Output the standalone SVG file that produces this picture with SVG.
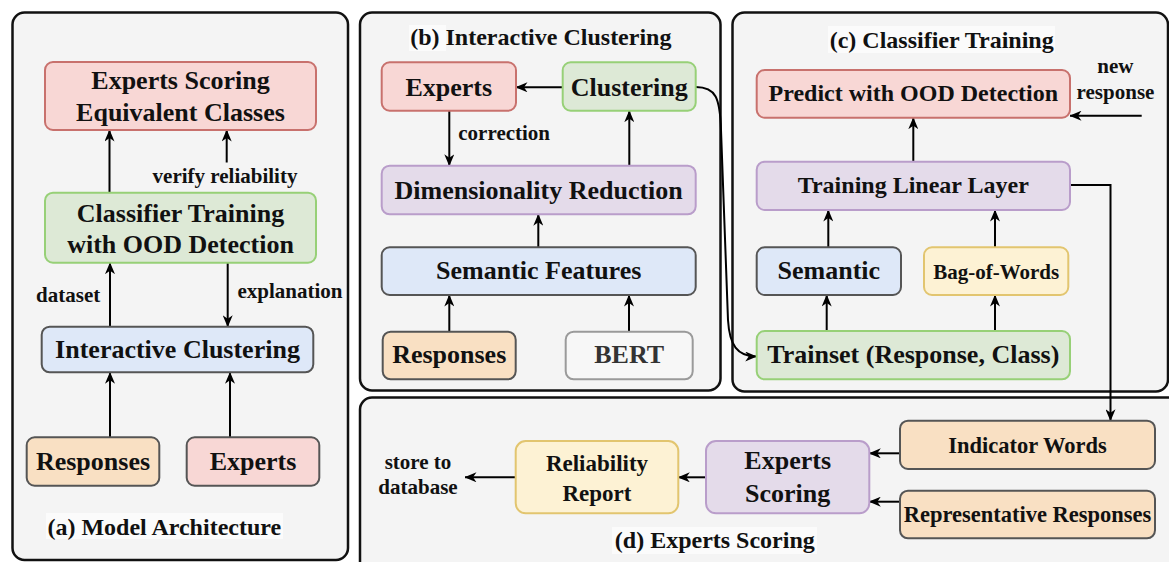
<svg xmlns="http://www.w3.org/2000/svg" width="1169" height="562" viewBox="0 0 1169 562">
<defs>
<marker id="arr" viewBox="0 0 12 10" refX="11.5" refY="5" markerWidth="12" markerHeight="10" markerUnits="userSpaceOnUse" orient="auto">
<path d="M0,0 L12,5 L0,10 L3.5,5 Z" fill="#000"/>
</marker>
</defs>
<style>
.panel{fill:#f4f4f4;stroke:#111;stroke-width:2.5}
.lbg{fill:#fbfbfb}
.lbl{font-family:'Liberation Serif',serif;font-weight:bold;fill:#111;text-anchor:middle}
.f26{font-size:26px}.f24{font-size:24px}.f23{font-size:23px}.f22{font-size:22.5px}.f21{font-size:21px}
.red{fill:#f8d7d5;stroke:#c8716d;stroke-width:2}
.grn{fill:#dde9d6;stroke:#97d077;stroke-width:2}
.blu{fill:#dee8f8;stroke:#555;stroke-width:2}
.pur{fill:#e4dbea;stroke:#b99dca;stroke-width:2}
.pch{fill:#f9e0c3;stroke:#555;stroke-width:2}
.yel{fill:#fdf2d4;stroke:#e2c56f;stroke-width:2}
.pnkd{fill:#f8d7d5;stroke:#555;stroke-width:2}
.gry{fill:#f7f7f7;stroke:#9a9a9a;stroke-width:2}
.c{fill:none;stroke:#000;stroke-width:2;marker-end:url(#arr)}
</style>

<g id="panels">
<rect class="panel" x="12.5" y="12.5" width="335.5" height="547.5" rx="12"/>
<rect class="panel" x="360" y="12.5" width="360.5" height="378" rx="12"/>
<rect class="panel" x="732.5" y="12.5" width="435.5" height="379" rx="12"/>
<rect class="panel" x="360" y="397.5" width="830" height="190" rx="12"/>
</g>

<g id="titles">
<rect class="lbg" x="46" y="513" width="237" height="26"/>
<text class="lbl f24" font-family="Liberation Serif" style="font-family:'Liberation Serif',serif" x="164.3" y="535">(a) Model Architecture</text>
<rect class="lbg" x="409" y="25" width="37" height="26"/>
<text class="lbl f24" font-family="Liberation Serif" style="font-family:'Liberation Serif',serif" x="540.8" y="45">(b) Interactive Clustering</text>
<rect class="lbg" x="828" y="26" width="227" height="27"/>
<text class="lbl f24" font-family="Liberation Serif" style="font-family:'Liberation Serif',serif" x="941.7" y="48.3">(c) Classifier Training</text>
<rect class="lbg" x="612" y="527" width="205" height="27"/>
<text class="lbl f24" font-family="Liberation Serif" style="font-family:'Liberation Serif',serif" x="714.8" y="548.3">(d) Experts Scoring</text>
</g>

<g id="connectors">
<path class="c" d="M109.5,192.7 V130"/>
<path class="c" d="M226.7,162.5 V130"/>
<path class="c" d="M110,326.7 V262.7"/>
<path class="c" d="M227.7,262.7 V326.7"/>
<path class="c" d="M110,437.3 V372.3"/>
<path class="c" d="M230,437.3 V372.3"/>
<path class="c" d="M562.7,87.3 H516"/>
<path class="c" d="M449.3,110.7 V165.7"/>
<path class="c" d="M629.3,165.7 V110.7"/>
<path class="c" d="M538.3,247.3 V214.3"/>
<path class="c" d="M449.3,331.7 V295"/>
<path class="c" d="M629,331.7 V295"/>
<path class="c" d="M695.7,87 C716,87 720,98 721,130 L728,320 C729.5,345 737,356.5 756.7,356.5"/>
<path class="c" d="M1141.7,115.7 H1070"/>
<path class="c" d="M913.3,161.7 V117.7"/>
<path class="c" d="M828.3,247.3 V210"/>
<path class="c" d="M995,247.3 V210"/>
<path class="c" d="M826.7,331 V295"/>
<path class="c" d="M995,331 V295"/>
<path class="c" d="M1070,185 H1110.5 V420.7"/>
<path class="c" d="M900,453.3 H869.3"/>
<path class="c" d="M900,501.7 H869.3"/>
<path class="c" d="M706,477.3 H678.3"/>
<path class="c" d="M515.7,477.3 H465"/>
</g>

<g id="a_experts_scoring">
<rect class="red" x="45" y="62" width="271" height="68" rx="8"/>
<text class="lbl f26" font-family="Liberation Serif" style="font-family:'Liberation Serif',serif" x="180.5" y="89">Experts Scoring</text>
<text class="lbl f26" font-family="Liberation Serif" style="font-family:'Liberation Serif',serif" x="180.5" y="121">Equivalent Classes</text>
</g>
<g id="a_classifier">
<rect class="grn" x="45" y="192.7" width="271" height="70" rx="8"/>
<text class="lbl f26" font-family="Liberation Serif" style="font-family:'Liberation Serif',serif" x="180.5" y="221.7">Classifier Training</text>
<text class="lbl f26" font-family="Liberation Serif" style="font-family:'Liberation Serif',serif" x="180.5" y="252.5">with OOD Detection</text>
</g>
<g id="a_interactive">
<rect class="blu" x="41.7" y="326.7" width="271.6" height="45.6" rx="8"/>
<text class="lbl f26" font-family="Liberation Serif" style="font-family:'Liberation Serif',serif" x="177.5" y="358.3">Interactive Clustering</text>
</g>
<g id="a_responses">
<rect class="pch" x="26.7" y="437.3" width="132.6" height="48.4" rx="8"/>
<text class="lbl f26" font-family="Liberation Serif" style="font-family:'Liberation Serif',serif" x="93" y="470">Responses</text>
</g>
<g id="a_experts">
<rect class="pnkd" x="186.7" y="437.3" width="132.6" height="48.4" rx="8"/>
<text class="lbl f26" font-family="Liberation Serif" style="font-family:'Liberation Serif',serif" x="253" y="470">Experts</text>
</g>
<g id="a_labels">
<text class="lbl f21" font-family="Liberation Serif" style="font-family:'Liberation Serif',serif" x="225" y="182.7">verify reliability</text>
<text class="lbl f21" font-family="Liberation Serif" style="font-family:'Liberation Serif',serif" x="68.2" y="301.7">dataset</text>
<text class="lbl f21" font-family="Liberation Serif" style="font-family:'Liberation Serif',serif" x="290" y="298.3">explanation</text>
</g>

<g id="b_experts">
<rect class="red" x="381.7" y="62.3" width="134.3" height="48.4" rx="8"/>
<text class="lbl f26" font-family="Liberation Serif" style="font-family:'Liberation Serif',serif" x="448.8" y="95.7">Experts</text>
</g>
<g id="b_clustering">
<rect class="grn" x="562.7" y="62.3" width="133" height="48.4" rx="8"/>
<text class="lbl f26" font-family="Liberation Serif" style="font-family:'Liberation Serif',serif" x="629.2" y="95.7">Clustering</text>
</g>
<g id="b_dim">
<rect class="pur" x="381.7" y="165.7" width="314" height="48.6" rx="8"/>
<text class="lbl f26" font-family="Liberation Serif" style="font-family:'Liberation Serif',serif" x="538.7" y="199">Dimensionality Reduction</text>
</g>
<g id="b_semantic">
<rect class="blu" x="381.7" y="247.3" width="314" height="47.7" rx="8"/>
<text class="lbl f26" font-family="Liberation Serif" style="font-family:'Liberation Serif',serif" x="538.7" y="279.3">Semantic Features</text>
</g>
<g id="b_responses">
<rect class="pch" x="382.7" y="331.7" width="133" height="47.6" rx="8"/>
<text class="lbl f26" font-family="Liberation Serif" style="font-family:'Liberation Serif',serif" x="449.2" y="363.3">Responses</text>
</g>
<g id="b_bert">
<rect class="gry" x="565.7" y="331.7" width="127" height="47.6" rx="8"/>
<text class="lbl f26" font-family="Liberation Serif" style="font-family:'Liberation Serif',serif;fill:#333" x="629.2" y="363.3">BERT</text>
</g>
<g id="b_labels">
<text class="lbl f21" font-family="Liberation Serif" style="font-family:'Liberation Serif',serif;text-anchor:start" x="458.3" y="140">correction</text>
</g>

<g id="c_predict">
<rect class="red" x="756.7" y="70" width="313.3" height="47.7" rx="8"/>
<text class="lbl f24" font-family="Liberation Serif" style="font-family:'Liberation Serif',serif" x="913.3" y="101">Predict with OOD Detection</text>
</g>
<g id="c_training">
<rect class="pur" x="756.7" y="161.7" width="313.3" height="48.3" rx="8"/>
<text class="lbl f24" font-family="Liberation Serif" style="font-family:'Liberation Serif',serif" x="913.3" y="193.3">Training Linear Layer</text>
</g>
<g id="c_semantic">
<rect class="blu" x="756.7" y="247.3" width="144.3" height="47.7" rx="8"/>
<text class="lbl f26" font-family="Liberation Serif" style="font-family:'Liberation Serif',serif" x="828.8" y="279.3">Semantic</text>
</g>
<g id="c_bow">
<rect class="yel" x="924" y="247.3" width="144.3" height="47.7" rx="8"/>
<text class="lbl f21" font-family="Liberation Serif" style="font-family:'Liberation Serif',serif" x="996.2" y="279.3">Bag-of-Words</text>
</g>
<g id="c_trainset">
<rect class="grn" x="756.7" y="331" width="313.3" height="48.3" rx="8"/>
<text class="lbl f26" font-family="Liberation Serif" style="font-family:'Liberation Serif',serif" x="913.3" y="363.3">Trainset (Response, Class)</text>
</g>
<g id="c_labels">
<text class="lbl f21" font-family="Liberation Serif" style="font-family:'Liberation Serif',serif" x="1115.3" y="73.3">new</text>
<text class="lbl f21" font-family="Liberation Serif" style="font-family:'Liberation Serif',serif" x="1115.5" y="99">response</text>
</g>

<g id="d_indicator">
<rect class="pch" x="900" y="420.7" width="255" height="48.3" rx="8"/>
<text class="lbl f22" font-family="Liberation Serif" style="font-family:'Liberation Serif',serif" x="1027.5" y="452.7">Indicator Words</text>
</g>
<g id="d_representative">
<rect class="pch" x="900" y="490.7" width="255" height="47.6" rx="8"/>
<text class="lbl f22" font-family="Liberation Serif" style="font-family:'Liberation Serif',serif" x="1027.5" y="521.7">Representative Responses</text>
</g>
<g id="d_experts_scoring">
<rect class="pur" x="706" y="441" width="163.3" height="72.3" rx="10"/>
<text class="lbl f26" font-family="Liberation Serif" style="font-family:'Liberation Serif',serif" x="787.7" y="469.3">Experts</text>
<text class="lbl f26" font-family="Liberation Serif" style="font-family:'Liberation Serif',serif" x="787.7" y="501.7">Scoring</text>
</g>
<g id="d_reliability">
<rect class="yel" x="515.7" y="441" width="162.6" height="72.3" rx="10"/>
<text class="lbl f23" font-family="Liberation Serif" style="font-family:'Liberation Serif',serif" x="597" y="470.7">Reliability</text>
<text class="lbl f23" font-family="Liberation Serif" style="font-family:'Liberation Serif',serif" x="597" y="501">Report</text>
</g>
<g id="d_labels">
<text class="lbl f21" font-family="Liberation Serif" style="font-family:'Liberation Serif',serif" x="418" y="469">store to</text>
<text class="lbl f21" font-family="Liberation Serif" style="font-family:'Liberation Serif',serif" x="418" y="494.3">database</text>
</g>
</svg>
